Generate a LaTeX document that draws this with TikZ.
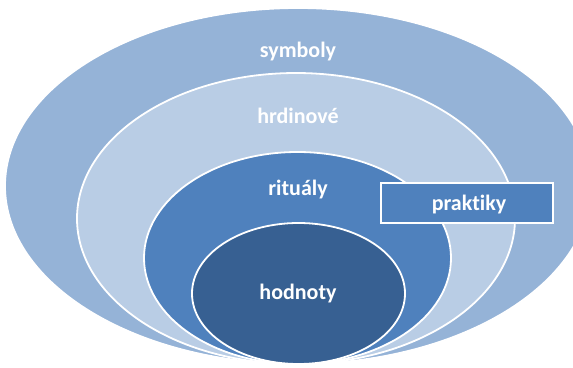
\documentclass[tikz,border=0pt]{standalone}
\usepackage{fontspec}
\setmainfont[Ligatures=NoCommon]{Carlito}
\usetikzlibrary{shapes.geometric}
\definecolor{layerA}{RGB}{149,179,215}
\definecolor{layerB}{RGB}{185,205,229}
\definecolor{layerC}{RGB}{79,129,189}
\definecolor{layerD}{RGB}{55,96,146}
\tikzset{
  ring/.style={ellipse, draw=white, line width=1.8pt, inner sep=0pt},
  label/.style={text=white, font=\fontsize{22}{26}\selectfont\bfseries, inner sep=0pt},
  tagbox/.style={rectangle, draw=white, line width=1.8pt, fill=layerC,
    minimum width=172pt, minimum height=40pt, inner sep=0pt}
}
\begin{document}
\begin{tikzpicture}[x=1pt, y=-1pt]
  \fill[white] (0,0) rectangle (573,367);
  \useasboundingbox (0,0) rectangle (573,367);
  % nested layers, all touching at the bottom
  \node[ring, fill=layerA, minimum width=586pt, minimum height=356pt] (outer) at (298,186) {};
  \node[ring, fill=layerB, minimum width=438pt, minimum height=291pt] (second) at (296,218.5) {};
  \node[ring, fill=layerC, minimum width=307pt, minimum height=212pt] (third) at (297.5,258) {};
  \node[ring, fill=layerD, minimum width=213pt, minimum height=141pt] (core) at (298.5,293.5) {};
  % labels
  \node[label] (t1) at (298,52) {symboly};
  \node[label] (t2) at (298,116) {hrdinové};
  \node[label] (t3) at (298,190) {rituály};
  \node[label] (t4) at (298,294) {hodnoty};
  % side tag
  \node[tagbox] (tag) at (467,203) {};
  \node[label] (t5) at (469,205) {praktiky};
\end{tikzpicture}
\end{document}
